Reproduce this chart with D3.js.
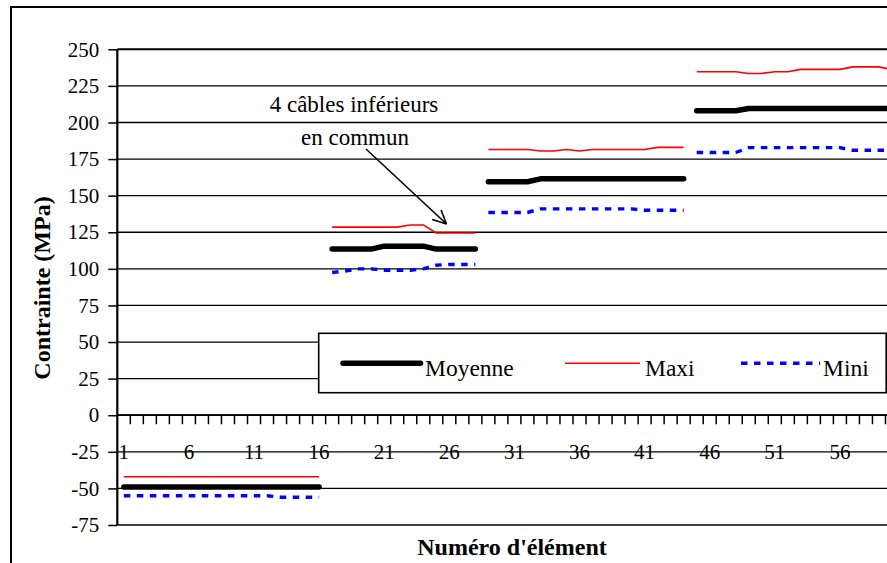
<!DOCTYPE html>
<html><head><meta charset="utf-8"><script src="https://cdn.jsdelivr.net/npm/d3@7"></script></head>
<body style="margin:0">
<svg id="c" width="887" height="563"></svg>
<script>
const elements = [1,2,3,4,5,6,7,8,9,10,11,12,13,14,15,16,17,18,19,20,21,22,23,24,25,26,27,28,29,30,31,32,33,34,35,36,37,38,39,40,41,42,43,44,45,46,47,48,49,50,51,52,53,54,55,56,57,58,59,60];
const groupStarts = [1,17,29,45];
const groupEnds = [16,28,44,60];
const moyenne = [-49,-49,-49,-49,-49,-49,-49,-49,-49,-49,-49,-49,-49,-49,-49,-49,
  113.5,113.5,113.5,113.5,115.5,115.5,115.5,115.5,113.5,113.5,113.5,113.5,
  159.5,159.5,159.5,159.5,161.5,161.5,161.5,161.5,161.5,161.5,161.5,161.5,161.5,161.5,161.5,161.5,
  208,208,208,208,209.5,209.5,209.5,209.5,209.5,209.5,209.5,209.5,209.5,209.5,209.5,209.5];
const maxi = [-42,-42,-42,-42,-42,-42,-42,-42,-42,-42,-42,-42,-42,-42,-42,-42,
  128.5,128.5,128.5,128.5,128.5,128.5,130,130,124.5,124.5,124.5,124.5,
  181.5,181.5,181.5,181.5,180.5,180.5,181.5,180.5,181.5,181.5,181.5,181.5,181.5,183,183,183,
  234.7,234.7,234.7,234.7,233.5,233.5,234.7,234.7,236.3,236.3,236.3,236.3,238,238,238,236];
const mini = [-55,-55,-55,-55,-55,-55,-55,-55,-55,-55,-55,-55,-56,-56,-56,-56,
  97.5,98.5,100,100,99,99,99,100,102.5,103,103,103,
  138.5,138.5,138.5,138.5,141,141,141,141,141,141,141,141,140,140,140,140,
  179.5,179.5,179.5,179.5,182.8,182.8,182.8,182.8,182.8,182.8,182.8,182.8,181,181,181,181];
const yTicks = [-75,-50,-25,0,25,50,75,100,125,150,175,200,225,250];
const xTickLabels = [1,6,11,16,21,26,31,36,41,46,51,56];
const seriesNames = ["Moyenne","Maxi","Mini"];
const annotation = ["4 câbles inférieurs","en commun"];

const FONT = "Liberation Serif";
const svg = d3.select("#c");
const left = 117.3, step = 13.02;
const x = d3.scaleBand().domain(elements).range([left, left + elements.length*step]).padding(0);
const y = d3.scaleLinear().domain([-75,250]).range([525,49.3]);
const cx = e => x(e) + x.bandwidth()/2;
const right = left + elements.length*step;
const txt = (sel) => sel.attr("font-family", FONT).attr("fill","#000");

// outer frame
svg.append("rect").attr("x",11).attr("y",7).attr("width",950).attr("height",620)
  .attr("fill","#fff").attr("stroke","#000").attr("stroke-width",2);

// gridlines
svg.append("g").selectAll("line").data(yTicks).join("line")
  .attr("x1",left).attr("x2",right).attr("y1",d=>y(d)).attr("y2",d=>y(d))
  .attr("stroke","#000").attr("stroke-width",d=>d===250?2:1.3);

// y axis
const ya = svg.append("g").attr("transform",`translate(${left},0)`)
  .call(d3.axisLeft(y).tickValues(yTicks).tickSize(9).tickPadding(9).tickFormat(d=>String(d)));
ya.attr("font-family",FONT).attr("font-size",21);
ya.select(".domain").attr("stroke-width",2.2).attr("d",`M0,${y(250)}V${y(-75)}`);
ya.selectAll(".tick line").attr("stroke-width",1.5);
ya.selectAll("text").call(txt);

// x axis at 0
const y0 = y(0);
svg.append("line").attr("x1",left).attr("x2",right).attr("y1",y0).attr("y2",y0).attr("stroke","#000").attr("stroke-width",1.8);
svg.append("g").selectAll("line").data(elements).join("line")
  .attr("x1",d=>x(d)+x.bandwidth()).attr("x2",d=>x(d)+x.bandwidth())
  .attr("y1",y0).attr("y2",y0+9).attr("stroke","#000").attr("stroke-width",1.5);
svg.append("g").selectAll("text").data(xTickLabels).join("text")
  .attr("x",d=>cx(d)).attr("y",y0+44).attr("text-anchor","middle")
  .attr("font-size",21).text(d=>d).call(txt);

// series
const line = d3.line().x(d=>cx(d.e)).y(d=>y(d.v));
const styles = [
  {vals:moyenne, stroke:"#000", w:5.5, dash:null, cap:"round"},
  {vals:maxi, stroke:"#ff0000", w:1.6, dash:null, cap:"butt"},
  {vals:mini, stroke:"#0000ff", w:3.4, dash:"6.5,6.5", cap:"butt"}
];
[2,1,0].forEach(si=>{
  const s = styles[si];
  groupStarts.forEach((gs,gi)=>{
    const pts = elements.map((e,i)=>({e, v:s.vals[i]})).filter(p=>p.e>=gs && p.e<=groupEnds[gi]);
    svg.append("path").attr("d",line(pts)).attr("fill","none")
      .attr("stroke",s.stroke).attr("stroke-width",s.w)
      .attr("stroke-linecap",s.cap).attr("stroke-linejoin","round")
      .attr("stroke-dasharray",s.dash);
  });
});

// annotation
svg.append("text").attr("x",354).attr("y",112).attr("text-anchor","middle").attr("font-size",23).text(annotation[0]).call(txt);
svg.append("text").attr("x",355).attr("y",145).attr("text-anchor","middle").attr("font-size",23).text(annotation[1]).call(txt);
const ax1=366, ay1=149, ax2=446.5, ay2=224;
svg.append("line").attr("x1",ax1).attr("y1",ay1).attr("x2",ax2).attr("y2",ay2).attr("stroke","#000").attr("stroke-width",1.6);
const ang = Math.atan2(ay2-ay1, ax2-ax1);
[0.45,-0.45].forEach(da=>{
  svg.append("line").attr("x1",ax2).attr("y1",ay2)
    .attr("x2",ax2-15*Math.cos(ang+da)).attr("y2",ay2-15*Math.sin(ang+da))
    .attr("stroke","#000").attr("stroke-width",1.6);
});

// legend
const lg = svg.append("g");
lg.append("rect").attr("x",318.7).attr("y",333.3).attr("width",567.5).attr("height",59.4)
  .attr("fill","#fff").attr("stroke","#000").attr("stroke-width",1.6);
const legPos = [{x1:343,x2:420.5,tx:425},{x1:565,x2:640,tx:645},{x1:741,x2:820,tx:823}];
seriesNames.forEach((n,i)=>{
  const s = styles[i], p = legPos[i];
  lg.append("line").attr("x1",p.x1).attr("x2",p.x2).attr("y1",363.3).attr("y2",363.3)
    .attr("stroke",s.stroke).attr("stroke-width",s.w).attr("stroke-linecap",s.cap).attr("stroke-dasharray",s.dash);
  lg.append("text").attr("x",p.tx).attr("y",376).attr("font-size",23.5).text(n).call(txt);
});

// axis titles
svg.append("text").attr("transform","translate(50,288) rotate(-90)").attr("text-anchor","middle")
  .attr("font-size",24).attr("font-weight","bold").text("Contrainte (MPa)").call(txt);
svg.append("text").attr("x",512).attr("y",555).attr("text-anchor","middle")
  .attr("font-size",24).attr("font-weight","bold").text("Numéro d'élément").call(txt);
</script></body></html>
